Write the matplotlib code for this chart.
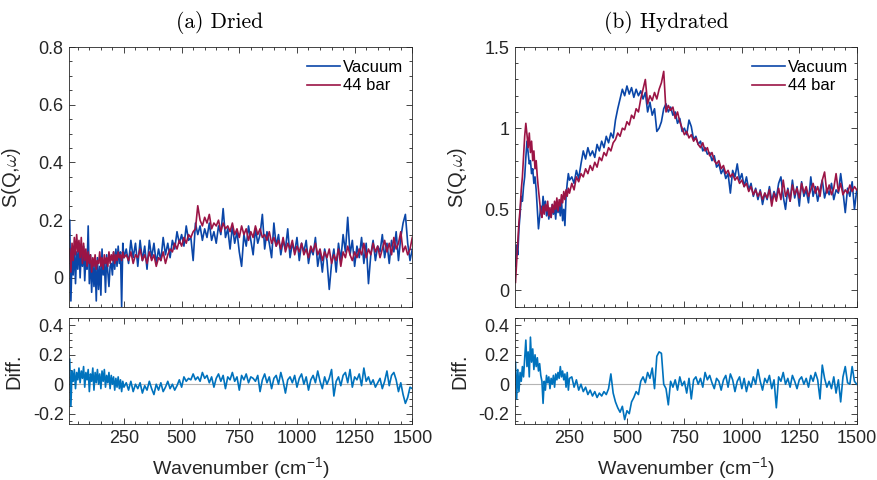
import numpy as np
import matplotlib
matplotlib.use("Agg")
import matplotlib.pyplot as plt
from matplotlib.ticker import MultipleLocator, FuncFormatter

plt.rcParams["font.family"] = ["Liberation Sans", "DejaVu Sans"]
plt.rcParams["mathtext.fontset"] = "custom"
plt.rcParams["mathtext.rm"] = "Liberation Sans"
plt.rcParams["mathtext.it"] = "Liberation Sans:italic"
plt.rcParams["mathtext.bf"] = "Liberation Sans:bold"

# wavenumber sampling: fine below 250, coarser above
wavenumber = np.concatenate([np.arange(15, 251, 5), np.arange(260, 1501, 10)])

dried_vacuum = [
    0.20, -0.08, 0.07, 0.01, 0.11, -0.02, 0.09, 0.03, 0.12, 0.00, 0.09, 0.04,
    0.11, -0.01, 0.07, 0.03, 0.18, -0.02, 0.08, -0.05, 0.06, -0.03, 0.05, -0.08,
    0.07, -0.04, 0.04, -0.06, 0.10, 0.01, 0.06, -0.05, 0.08, 0.02, -0.03, 0.04,
    0.05, 0.01, 0.09, 0.03, 0.10, 0.04, 0.11, 0.05, 0.09, -0.10, 0.12, 0.07,
    0.10, 0.05, 0.13, 0.07, 0.12, 0.04, 0.13, 0.06, 0.11, 0.03, 0.13, 0.07, 0.12, 0.05, 0.10, 0.06, 0.14, 0.08, 0.12, 0.07,
    0.13, 0.10, 0.16, 0.12, 0.15, 0.11, 0.18, 0.13, 0.14, 0.06,
    0.19, 0.15, 0.18, 0.13, 0.17, 0.14, 0.19, 0.13, 0.16, 0.12, 0.18, 0.15, 0.24, 0.14, 0.17,
    0.10, 0.18, 0.12, 0.16, 0.09, 0.04, 0.15, 0.11, 0.18, 0.13, 0.08, 0.17, 0.12, 0.15, 0.22,
    0.10, 0.16, 0.12, 0.07, 0.19, 0.11, 0.15, 0.08, 0.13, 0.10, 0.17, 0.07, 0.12, 0.09, 0.14,
    0.06, 0.12, 0.09, 0.13, 0.05, 0.10, 0.08, 0.14, 0.04, 0.09, 0.02, 0.10, 0.06, -0.04, 0.05,
    0.10, 0.02, 0.12, 0.06, 0.15, 0.09, 0.21, 0.08, 0.13, 0.04, 0.11, 0.07, 0.14, 0.05, 0.12,
    -0.02, 0.08, 0.13, 0.06, 0.11, 0.09, 0.15, 0.07, 0.12, 0.05, 0.13, 0.09, 0.16, 0.06, 0.14, 0.19, 0.22, 0.12, 0.06, 0.10,
]
dried_44bar = [
    0.10, 0.02, 0.12, 0.06, 0.14, 0.08, 0.15, 0.09, 0.13, 0.07, 0.14, 0.05,
    0.12, 0.06, 0.10, 0.04, 0.09, 0.05, 0.08, 0.02, 0.07, 0.04, 0.08, 0.03,
    0.06, 0.05, 0.09, 0.04, 0.07, 0.03, 0.08, 0.05, 0.07, 0.04, 0.09, 0.05,
    0.08, 0.06, 0.09, 0.05, 0.08, 0.06, 0.09, 0.07, 0.08, 0.06, 0.09, 0.07,
    0.08, 0.06, 0.09, 0.05, 0.08, 0.07, 0.10, 0.06, 0.08, 0.05, 0.09, 0.06, 0.08, 0.04, 0.07, 0.06, 0.09, 0.05, 0.08, 0.10,
    0.09, 0.12, 0.10, 0.13, 0.11, 0.14, 0.12, 0.15, 0.14, 0.16,
    0.17, 0.25, 0.20, 0.18, 0.21, 0.19, 0.22, 0.17, 0.19, 0.18, 0.20, 0.16, 0.19, 0.17, 0.18,
    0.16, 0.19, 0.15, 0.17, 0.14, 0.18, 0.15, 0.17, 0.13, 0.16, 0.14, 0.18, 0.15, 0.17, 0.14,
    0.15, 0.13, 0.16, 0.12, 0.14, 0.11, 0.13, 0.10, 0.14, 0.09, 0.12, 0.10, 0.13, 0.08, 0.11,
    0.09, 0.12, 0.08, 0.10, 0.07, 0.11, 0.09, 0.12, 0.08, 0.10, 0.06, 0.09, 0.07, 0.10, 0.05,
    0.08, 0.06, 0.10, 0.04, 0.09, 0.07, 0.11, 0.08, 0.06, 0.09, 0.07, 0.10, 0.08, 0.12, 0.07,
    0.10, 0.08, 0.12, 0.09, 0.11, 0.07, 0.10, 0.13, 0.09, 0.12, 0.08, 0.14, 0.10, 0.12, 0.16, 0.09, 0.11, 0.08, 0.10, 0.14,
]
dried_diff = [
    0.17, -0.15, 0.09, 0.02, 0.10, -0.03, 0.08, 0.03, 0.11, 0.01, 0.09, 0.04,
    0.12, -0.02, 0.08, 0.03, 0.10, -0.05, 0.07, 0.02, 0.11, -0.04, 0.08, 0.01,
    0.10, 0.00, 0.07, -0.03, 0.09, 0.02, 0.10, -0.02, 0.06, 0.01, 0.08, -0.03,
    0.06, 0.00, 0.05, -0.04, 0.04, -0.02, 0.05, -0.03, 0.03, -0.05, 0.02, -0.02,
    0.01, -0.04, 0.02, -0.05, 0.00, -0.03, 0.01, -0.06, -0.01, -0.04, 0.02, -0.03, -0.07, 0.00, -0.04, 0.01, -0.05, -0.02, 0.02, -0.03,
    0.00, -0.04, -0.01, 0.03, -0.02, 0.05, 0.02, 0.04, 0.03, 0.07,
    0.03, 0.05, 0.02, 0.08, 0.04, 0.06, 0.01, 0.05, -0.02, 0.04, 0.07, 0.02, 0.06, -0.03, 0.05,
    0.03, 0.08, 0.02, 0.05, -0.04, 0.06, 0.03, 0.07, 0.01, 0.05, 0.04, 0.02, 0.06, -0.05, 0.03,
    0.07, 0.01, 0.05, -0.03, 0.04, 0.06, 0.00, 0.08, 0.02, -0.06, 0.03, 0.05, 0.01, 0.06, -0.02,
    0.04, 0.07, 0.00, 0.05, -0.04, 0.03, 0.06, 0.01, 0.09, 0.02, -0.03, 0.05, 0.00, 0.04, 0.10,
    -0.08, 0.02, 0.05, -0.01, 0.06, 0.08, 0.01, 0.10, -0.02, 0.05, 0.03, 0.07, -0.01, 0.11, 0.02,
    0.05, 0.00, 0.03, -0.02, 0.01, 0.04, -0.03, 0.02, 0.09, -0.01, 0.06, 0.08, 0.03, -0.05, 0.01, -0.07, -0.13, -0.09, -0.02, -0.03,
]

hydrated_vacuum = [
    0.15, 0.28, 0.22, 0.38, 0.47, 0.58, 0.55, 0.64, 0.70, 0.82, 0.92, 0.85,
    0.78, 0.80, 0.72, 0.75, 0.66, 0.70, 0.62, 0.50, 0.38, 0.45, 0.52, 0.47,
    0.58, 0.50, 0.55, 0.46, 0.52, 0.44, 0.49, 0.45, 0.53, 0.47, 0.51, 0.44,
    0.55, 0.48, 0.52, 0.46, 0.56, 0.43, 0.50, 0.40, 0.58, 0.66, 0.72, 0.68,
    0.70, 0.66, 0.74, 0.69, 0.78, 0.86, 0.81, 0.88, 0.83, 0.86, 0.82, 0.90, 0.86, 0.92, 0.88, 0.95, 0.91, 0.97, 0.94, 1.05,
    1.12, 1.18, 1.24, 1.20, 1.26, 1.21, 1.25, 1.19, 1.24, 1.20,
    1.23, 1.18, 1.22, 1.10, 1.16, 1.08, 1.12, 0.98, 1.00, 1.04, 1.12, 1.15, 1.10, 1.13, 1.08,
    1.10, 1.03, 1.06, 0.98, 1.00, 0.96, 1.05, 1.01, 0.93, 0.95, 0.90, 0.92, 0.86, 0.88, 0.84,
    0.85, 0.80, 0.83, 0.76, 0.78, 0.72, 0.75, 0.69, 0.72, 0.60, 0.74, 0.70, 0.78, 0.68, 0.72,
    0.64, 0.70, 0.62, 0.66, 0.58, 0.63, 0.56, 0.62, 0.53, 0.60, 0.56, 0.64, 0.55, 0.61, 0.57,
    0.66, 0.70, 0.58, 0.50, 0.63, 0.55, 0.68, 0.57, 0.64, 0.52, 0.67, 0.58, 0.62, 0.54, 0.70,
    0.58, 0.64, 0.55, 0.62, 0.68, 0.57, 0.63, 0.59, 0.66, 0.56, 0.62, 0.60, 0.72, 0.61, 0.48, 0.63, 0.58, 0.67, 0.50, 0.62,
]
hydrated_44bar = [
    0.05, 0.18, 0.30, 0.42, 0.50, 0.62, 0.70, 0.82, 0.95, 1.03, 0.96, 0.88,
    0.97, 0.85, 0.92, 0.80, 0.86, 0.75, 0.80, 0.70, 0.62, 0.55, 0.48, 0.45,
    0.52, 0.47, 0.53, 0.49, 0.55, 0.46, 0.51, 0.45, 0.53, 0.48, 0.55, 0.50,
    0.57, 0.49, 0.56, 0.52, 0.59, 0.54, 0.61, 0.56, 0.62, 0.58, 0.63, 0.60,
    0.66, 0.62, 0.70, 0.67, 0.72, 0.70, 0.75, 0.72, 0.77, 0.74, 0.79, 0.76, 0.82, 0.80, 0.85, 0.83, 0.88, 0.86, 0.91, 0.93,
    0.97, 0.95, 1.00, 0.99, 1.04, 1.02, 1.08, 1.06, 1.12, 1.10,
    1.18, 1.24, 1.30, 1.15, 1.20, 1.17, 1.22, 1.18, 1.24, 1.28, 1.35, 1.10, 1.14, 1.11, 1.13,
    1.06, 1.10, 1.04, 1.00, 0.96, 0.98, 0.94, 0.96, 0.92, 0.94, 0.90, 0.88, 0.91, 0.86, 0.88,
    0.83, 0.85, 0.80, 0.78, 0.80, 0.75, 0.77, 0.72, 0.74, 0.70, 0.72, 0.68, 0.70, 0.66, 0.68,
    0.64, 0.66, 0.61, 0.64, 0.59, 0.62, 0.58, 0.61, 0.56, 0.60, 0.57, 0.62, 0.52, 0.60, 0.55,
    0.63, 0.56, 0.68, 0.58, 0.62, 0.55, 0.65, 0.59, 0.63, 0.57, 0.66, 0.60, 0.64, 0.58, 0.62,
    0.66, 0.60, 0.64, 0.58, 0.68, 0.73, 0.60, 0.65, 0.59, 0.63, 0.72, 0.61, 0.66, 0.59, 0.62, 0.60, 0.65, 0.61, 0.64, 0.62,
]
hydrated_diff = [
    0.15, -0.10, 0.10, -0.05, 0.08, 0.02, 0.12, 0.05, 0.18, 0.30, 0.12, 0.22,
    0.05, 0.32, 0.15, 0.24, 0.10, 0.20, 0.12, 0.18, 0.09, 0.14, 0.06, 0.02,
    -0.13, 0.02, -0.04, 0.06, 0.01, 0.05, -0.03, 0.04, 0.00, 0.06, -0.02, 0.07,
    0.03, 0.08, 0.04, 0.12, 0.05, 0.09, 0.03, 0.07, -0.02, 0.08, -0.04, 0.04,
    0.05, -0.02, 0.03, -0.04, 0.00, -0.05, -0.02, -0.07, -0.04, -0.08, -0.05, -0.09, -0.06, -0.08, -0.05, -0.07, -0.03, 0.07, -0.06, -0.12,
    -0.16, -0.19, -0.15, -0.24, -0.18, -0.20, -0.12, -0.09, -0.05, -0.07,
    0.02, 0.05, 0.01, 0.08, 0.04, 0.11, -0.03, 0.19, 0.22, 0.21, 0.00, -0.03, -0.14, 0.02, -0.02,
    0.03, -0.04, 0.05, -0.01, 0.02, -0.06, 0.04, -0.10, 0.03, 0.05, 0.00, 0.04, -0.02, 0.08, 0.03,
    0.06, 0.01, -0.03, 0.04, 0.02, -0.04, 0.03, 0.06, -0.02, 0.07, 0.03, -0.05, 0.02, 0.05, -0.03,
    0.04, -0.05, 0.02, -0.02, 0.05, 0.00, 0.10, 0.02, -0.04, 0.04, 0.01, 0.06, -0.03, 0.03, -0.16,
    0.05, 0.02, 0.08, 0.00, 0.04, -0.02, 0.06, 0.02, -0.03, 0.03, 0.05, 0.00, 0.04, -0.02, 0.06,
    0.02, 0.08, 0.03, -0.10, 0.13, 0.04, -0.02, 0.02, -0.03, 0.05, -0.06, 0.03, -0.12, 0.05, 0.12, 0.01, 0.00, 0.12, 0.02, 0.00,
]

VAC_COL = "#0A46A8"
BAR_COL = "#9B1445"
DIFF_COL = "#0072BD"
AX_COL = "#262626"


def fmt_g(value, pos):
    return f"{value:g}"


def style_axis(axis, ymajor, yminor):
    axis.set_xlim(13, 1500)
    axis.xaxis.set_major_locator(MultipleLocator(250))
    axis.xaxis.set_minor_locator(MultipleLocator(50))
    axis.yaxis.set_major_locator(MultipleLocator(ymajor))
    axis.yaxis.set_minor_locator(MultipleLocator(yminor))
    axis.yaxis.set_major_formatter(FuncFormatter(fmt_g))
    axis.tick_params(which="both", direction="in", top=True, right=True,
                     colors=AX_COL, width=0.6)
    axis.tick_params(which="major", length=4, labelsize=13, pad=4)
    axis.tick_params(which="minor", length=2)
    for spine in axis.spines.values():
        spine.set_color(AX_COL)
        spine.set_linewidth(0.6)


fig = plt.figure(figsize=(8.78, 4.8), dpi=100)

panels = [
    (0.0789, 0.3907, dried_vacuum, dried_44bar, dried_diff, (-0.1, 0.8), 0.2, 0.05, "(a) Dried", 220),
    (0.5866, 0.3892, hydrated_vacuum, hydrated_44bar, hydrated_diff, (-0.1, 1.5), 0.5, 0.1, "(b) Hydrated", 666),
]

for x0, width, vac, bar, diff, ylim, ymaj, ymin, title, title_px in panels:
    ax_top = fig.add_axes([x0, 0.361, width, 0.541])
    ax_bot = fig.add_axes([x0, 0.1167, width, 0.2208])

    ax_top.plot(wavenumber, vac, color=VAC_COL, linewidth=1.2, label="Vacuum")
    ax_top.plot(wavenumber, bar, color=BAR_COL, linewidth=1.2, label="44 bar")
    ax_top.set_ylim(*ylim)
    style_axis(ax_top, ymaj, ymin)
    ax_top.tick_params(labelbottom=False)
    ax_top.set_ylabel(r"S(Q,$\omega$)", fontsize=14.5, color=AX_COL, math_fontfamily="cm")
    ax_top.yaxis.set_label_coords(-0.135, 0.5)

    ax_top.legend(loc="upper left", bbox_to_anchor=(0.692, 0.95), frameon=False,
                  fontsize=12, borderpad=0, borderaxespad=0, handlelength=2.0,
                  handletextpad=0.2, labelspacing=0.2)

    ax_bot.axhline(0, color="#b4b4b4", linewidth=0.8, zorder=1)
    ax_bot.plot(wavenumber, diff, color=DIFF_COL, linewidth=1.2, zorder=2)
    ax_bot.set_ylim(-0.27, 0.45)
    style_axis(ax_bot, 0.2, 0.05)
    ax_bot.set_ylabel("Diff.", fontsize=14.5, color=AX_COL)
    ax_bot.yaxis.set_label_coords(-0.135, 0.5)
    ax_bot.set_xlabel(r"Wavenumber (cm$^{-1}$)", fontsize=14, color=AX_COL)
    ax_bot.xaxis.set_label_coords(0.5, -0.29)

    fig.text(title_px / 878, 1 - 23 / 480, title, family="cmr10", fontsize=15.5,
             ha="center", va="center", color="black")

fig.savefig("out.png", dpi=100)
